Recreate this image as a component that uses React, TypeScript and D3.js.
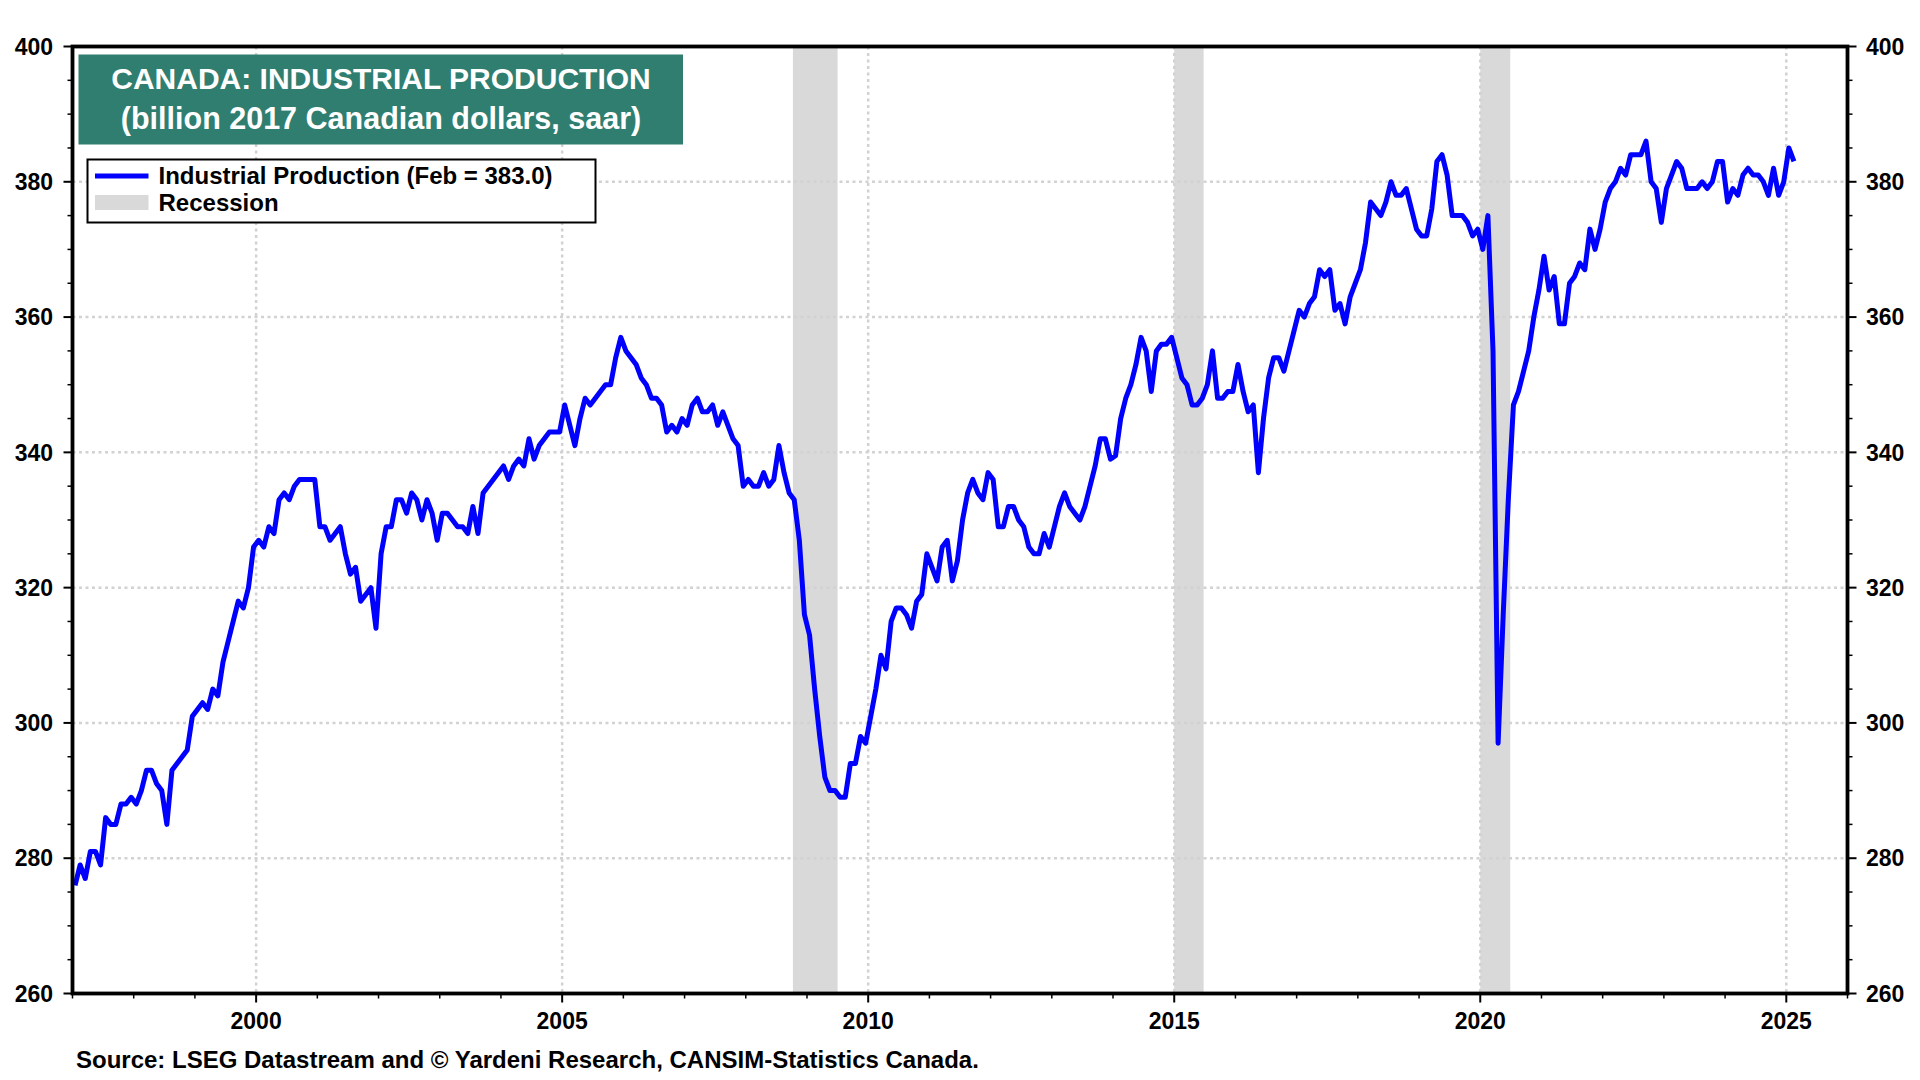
import { line, range, scaleLinear } from "d3";

// Canada industrial production, monthly from Jan 1997 to Feb 2025 (billion 2017 C$, saar)
const firstYear = 1997;
const industrialProduction = [
  // 1997
  276, 279, 277, 281, 281, 279, 286, 285, 285, 288, 288, 289,
  // 1998
  288, 290, 293, 293, 291, 290, 285, 293, 294, 295, 296, 301,
  // 1999
  302, 303, 302, 305, 304, 309, 312, 315, 318, 317, 320, 326,
  // 2000
  327, 326, 329, 328, 333, 334, 333, 335, 336, 336, 336, 336,
  // 2001
  329, 329, 327, 328, 329, 325, 322, 323, 318, 319, 320, 314,
  // 2002
  325, 329, 329, 333, 333, 331, 334, 333, 330, 333, 331, 327,
  // 2003
  331, 331, 330, 329, 329, 328, 332, 328, 334, 335, 336, 337,
  // 2004
  338, 336, 338, 339, 338, 342, 339, 341, 342, 343, 343, 343,
  // 2005
  347, 344, 341, 345, 348, 347, 348, 349, 350, 350, 354, 357,
  // 2006
  355, 354, 353, 351, 350, 348, 348, 347, 343, 344, 343, 345,
  // 2007
  344, 347, 348, 346, 346, 347, 344, 346, 344, 342, 341, 335,
  // 2008
  336, 335, 335, 337, 335, 336, 341, 337, 334, 333, 327, 316,
  // 2009
  313, 305, 298, 292, 290, 290, 289, 289, 294, 294, 298, 297,
  // 2010
  301, 305, 310, 308, 315, 317, 317, 316, 314, 318, 319, 325,
  // 2011
  323, 321, 326, 327, 321, 324, 330, 334, 336, 334, 333, 337,
  // 2012
  336, 329, 329, 332, 332, 330, 329, 326, 325, 325, 328, 326,
  // 2013
  329, 332, 334, 332, 331, 330, 332, 335, 338, 342, 342, 339,
  // 2014
  339.5, 345, 348, 350, 353, 357, 355, 349, 355, 356, 356, 357,
  // 2015
  354, 351, 350, 347, 347, 348, 350, 355, 348, 348, 349, 349,
  // 2016
  353, 349, 346, 347, 337, 345, 351, 354, 354, 352, 355, 358,
  // 2017
  361, 360, 362, 363, 367, 366, 367, 361, 362, 359, 363, 365,
  // 2018
  367, 371, 377, 376, 375, 377, 380, 378, 378, 379, 376, 373,
  // 2019
  372, 372, 376, 383, 384, 381, 375, 375, 375, 374, 372, 373,
  // 2020
  370, 375, 355, 297, 316, 333, 347, 349, 352, 355, 360, 364,
  // 2021
  369, 364, 366, 359, 359, 365, 366, 368, 367, 373, 370, 373,
  // 2022
  377, 379, 380, 382, 381, 384, 384, 384, 386, 380, 379, 374,
  // 2023
  379, 381, 383, 382, 379, 379, 379, 380, 379, 380, 383, 383,
  // 2024
  377, 379, 378, 381, 382, 381, 381, 380, 378, 382, 378, 380,
  // 2025
  385, 383,
];

const recessions: [number, number][] = [
  [2008.77, 2009.5],
  [2015.0, 2015.48],
  [2020.0, 2020.49],
];

const yTicks = [260, 280, 300, 320, 340, 360, 380, 400];
const xLabelYears = [2000, 2005, 2010, 2015, 2020, 2025];

const font = "'Liberation Sans', Arial, Helvetica, sans-serif";

export default function App() {
  const width = 1920;
  const height = 1080;
  const left = 72.5;
  const right = 1847.5;
  const top = 46.5;
  const bottom = 993.5;

  const x = scaleLinear().domain([1997, 2026]).range([left, right]);
  const y = scaleLinear().domain([260, 400]).range([bottom, top]);

  const productionLine = line<number>()
    .x((_, i) => x(firstYear + (i + 0.5) / 12))
    .y((v) => y(v))(industrialProduction);

  const minorY = range(260, 401, 5).filter((v) => v % 20 !== 0);
  const minorYears = range(1997, 2027).filter((yr) => yr % 5 !== 0);

  return (
    <svg
      width={width}
      height={height}
      viewBox={`0 0 ${width} ${height}`}
      style={{ position: "absolute", left: 0, top: 0, display: "block", background: "#ffffff" }}
      fontFamily={font}
      fontWeight="bold"
    >
      <rect x={0} y={0} width={width} height={height} fill="#ffffff" />

      {recessions.map(([a, b]) => (
        <rect key={a} x={x(a)} y={top} width={x(b) - x(a)} height={bottom - top} fill="#d9d9d9" />
      ))}

      {yTicks.slice(1, -1).map((v) => (
        <line
          key={v}
          x1={left}
          x2={right}
          y1={y(v)}
          y2={y(v)}
          stroke="#d2d2d2"
          strokeWidth="2.5"
          strokeDasharray="3 3.5"
        />
      ))}
      {xLabelYears.map((yr) => (
        <line
          key={yr}
          x1={x(yr)}
          x2={x(yr)}
          y1={top}
          y2={bottom}
          stroke="#d2d2d2"
          strokeWidth="2.5"
          strokeDasharray="3 3.5"
        />
      ))}

      {productionLine ? (
        <path d={productionLine} fill="none" stroke="#0000ff" strokeWidth="5" strokeLinejoin="round" />
      ) : null}

      <rect x={left} y={top} width={right - left} height={bottom - top} fill="none" stroke="#000000" strokeWidth="3.8" />

      {/* y ticks, both sides */}
      {yTicks.map((v) => (
        <g key={v}>
          <line x1={left - 9} x2={left} y1={y(v)} y2={y(v)} stroke="#000" strokeWidth="2" />
          <line x1={right} x2={right + 9} y1={y(v)} y2={y(v)} stroke="#000" strokeWidth="2" />
          <text x={53} y={y(v)} dy="0.36em" textAnchor="end" fontSize="23" fill="#000">
            {v}
          </text>
          <text x={1866} y={y(v)} dy="0.36em" textAnchor="start" fontSize="23" fill="#000">
            {v}
          </text>
        </g>
      ))}
      {minorY.map((v) => (
        <g key={v}>
          <line x1={left - 5} x2={left} y1={y(v)} y2={y(v)} stroke="#000" strokeWidth="1.5" />
          <line x1={right} x2={right + 5} y1={y(v)} y2={y(v)} stroke="#000" strokeWidth="1.5" />
        </g>
      ))}

      {/* x ticks */}
      {xLabelYears.map((yr) => (
        <g key={yr}>
          <line x1={x(yr)} x2={x(yr)} y1={bottom} y2={bottom + 9} stroke="#000" strokeWidth="2" />
          <text x={x(yr)} y={1029} textAnchor="middle" fontSize="23" fill="#000">
            {yr}
          </text>
        </g>
      ))}
      {minorYears.map((yr) => (
        <line key={yr} x1={x(yr)} x2={x(yr)} y1={bottom} y2={bottom + 5} stroke="#000" strokeWidth="1.5" />
      ))}

      {/* title box */}
      <rect x={78.5} y={54.5} width={604.5} height={90} fill="#2f7e70" />
      <text x={381} y={88.5} textAnchor="middle" fontSize="30" fill="#ffffff">
        CANADA: INDUSTRIAL PRODUCTION
      </text>
      <text x={381} y={129} textAnchor="middle" fontSize="30.5" fill="#ffffff">
        (billion 2017 Canadian dollars, saar)
      </text>

      {/* legend */}
      <rect x={87.5} y={159.5} width={508} height={63} fill="#ffffff" stroke="#000" strokeWidth="2" />
      <line x1={95} x2={148.5} y1={176} y2={176} stroke="#0000ff" strokeWidth="5" />
      <text x={158.5} y={183.5} fontSize="24" fill="#000">
        Industrial Production (Feb = 383.0)
      </text>
      <rect x={95} y={195} width={53.5} height={15} fill="#d9d9d9" />
      <text x={158.5} y={210.5} fontSize="24" fill="#000">
        Recession
      </text>

      <text x={76} y={1068} fontSize="24" fill="#000">
        Source: LSEG Datastream and © Yardeni Research, CANSIM-Statistics Canada.
      </text>
    </svg>
  );
}
